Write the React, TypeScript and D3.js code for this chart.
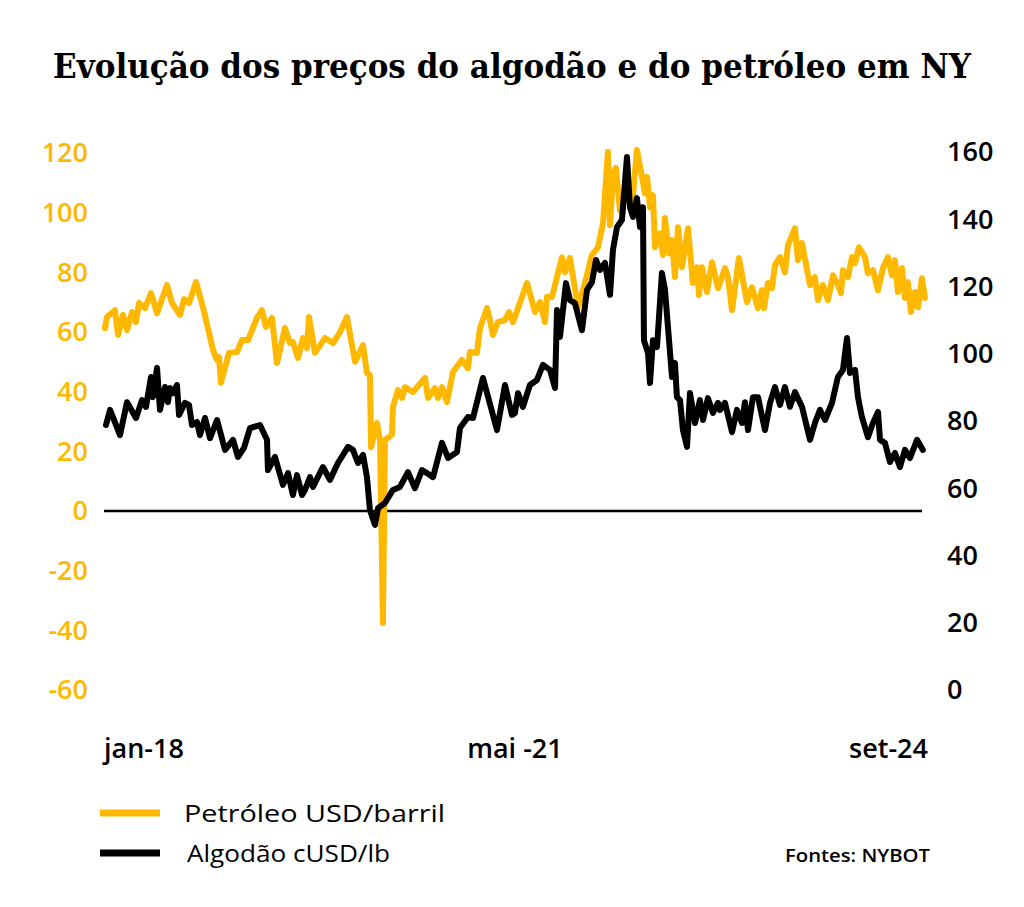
import React from "react";
import * as d3 from "d3";

// Time in decimal years (jan-18 = 2018.0)
const oilTime = [2018.000,2018.016,2018.081,2018.106,2018.146,2018.179,2018.220,2018.252,2018.276,2018.325,2018.374,2018.423,2018.504,2018.545,2018.610,2018.642,2018.683,2018.740,2018.797,2018.878,2018.911,2018.927,2018.943,2019.008,2019.073,2019.114,2019.163,2019.236,2019.276,2019.309,2019.358,2019.398,2019.463,2019.504,2019.528,2019.569,2019.610,2019.642,2019.659,2019.707,2019.789,2019.854,2019.911,2019.967,2020.033,2020.098,2020.130,2020.154,2020.163,2020.211,2020.236,2020.260,2020.276,2020.333,2020.341,2020.382,2020.415,2020.439,2020.504,2020.602,2020.626,2020.683,2020.707,2020.740,2020.780,2020.829,2020.902,2020.951,2020.967,2021.024,2021.049,2021.106,2021.130,2021.154,2021.195,2021.252,2021.285,2021.317,2021.431,2021.496,2021.537,2021.577,2021.593,2021.634,2021.715,2021.740,2021.780,2021.846,2021.902,2021.959,2022.008,2022.049,2022.089,2022.106,2022.130,2022.154,2022.187,2022.244,2022.285,2022.325,2022.366,2022.390,2022.407,2022.431,2022.455,2022.472,2022.512,2022.537,2022.553,2022.585,2022.610,2022.634,2022.659,2022.691,2022.740,2022.780,2022.813,2022.829,2022.854,2022.894,2022.935,2022.984,2023.041,2023.065,2023.098,2023.154,2023.220,2023.260,2023.309,2023.341,2023.358,2023.390,2023.423,2023.447,2023.488,2023.528,2023.553,2023.610,2023.634,2023.667,2023.732,2023.772,2023.797,2023.837,2023.878,2023.919,2023.959,2023.984,2024.000,2024.041,2024.073,2024.098,2024.130,2024.179,2024.203,2024.244,2024.285,2024.325,2024.366,2024.398,2024.423,2024.447,2024.480,2024.504,2024.528,2024.553,2024.585,2024.610,2024.642,2024.667];
const oilPrice = [61.3,65,67.3,59,65.7,60.6,66.7,63.3,69.7,68,73,66.3,75.7,69.7,65.7,71,69.7,76.7,68.3,54,50.6,51.6,43,53,53.3,57.3,57.3,64.7,67.3,61.7,64.7,49.6,61.3,56.3,56.6,51.3,58,54.6,65,53,58,56.3,60,65,50,55.6,46.2,45.6,21.4,29.5,23.8,-37.5,23.8,25.5,34.8,40.5,37.9,41.5,39.9,44.6,37.9,41.2,37.9,41.5,36.5,46.6,50.6,47.9,53.3,53,61.3,68,64,59,63.3,64,66.7,63.3,76.4,66.7,70,63.3,71.7,71.7,85,80,84.8,68.3,76.4,85.8,88.4,96.5,120.3,95.8,113,115,100.8,106.5,102.5,121,112,106.5,112,101.8,105.9,88.4,93.1,85.8,98.2,86.4,90.8,78.4,95.1,81.7,94.8,76.4,81.7,72.4,81.7,73.4,83.4,74.7,81.4,78.4,67.3,84.8,70,75,68,74,68,76.4,74.7,82.4,85.1,80,89.1,94.8,84.1,89.8,75.7,78.4,70.7,75.7,70.7,79,75.7,73,80.7,78.4,85.1,83.1,88.4,85.1,79.7,80.7,74,81.4,85.1,79,84.1,73.4,81.4,71.4,76.7,66.7,73.4,68.3,78,71.4];

const cottonTime = [2018.008,2018.041,2018.122,2018.179,2018.252,2018.301,2018.333,2018.374,2018.390,2018.423,2018.447,2018.488,2018.512,2018.528,2018.553,2018.585,2018.602,2018.650,2018.683,2018.707,2018.748,2018.772,2018.813,2018.854,2018.911,2018.976,2019.041,2019.081,2019.130,2019.179,2019.260,2019.317,2019.325,2019.382,2019.447,2019.488,2019.528,2019.561,2019.602,2019.626,2019.667,2019.691,2019.772,2019.829,2019.894,2019.976,2020.016,2020.057,2020.098,2020.130,2020.154,2020.195,2020.220,2020.276,2020.341,2020.398,2020.463,2020.520,2020.577,2020.618,2020.667,2020.740,2020.789,2020.862,2020.886,2020.951,2020.992,2021.073,2021.187,2021.252,2021.309,2021.333,2021.358,2021.398,2021.455,2021.512,2021.561,2021.618,2021.659,2021.675,2021.699,2021.748,2021.780,2021.821,2021.878,2021.919,2021.959,2021.992,2022.024,2022.065,2022.106,2022.130,2022.163,2022.203,2022.244,2022.268,2022.293,2022.325,2022.350,2022.374,2022.382,2022.415,2022.431,2022.455,2022.488,2022.528,2022.553,2022.577,2022.610,2022.634,2022.650,2022.675,2022.699,2022.732,2022.756,2022.797,2022.837,2022.862,2022.902,2022.943,2022.984,2023.000,2023.041,2023.098,2023.138,2023.179,2023.203,2023.228,2023.268,2023.309,2023.366,2023.407,2023.447,2023.488,2023.528,2023.569,2023.610,2023.667,2023.732,2023.772,2023.813,2023.854,2023.911,2023.959,2024.000,2024.033,2024.057,2024.098,2024.122,2024.154,2024.203,2024.244,2024.285,2024.301,2024.341,2024.382,2024.423,2024.463,2024.504,2024.545,2024.602,2024.650];
const cottonPrice = [78.8,83.3,75.8,85.6,80.9,86.2,84.2,93.1,87.1,95.8,83.3,90.1,85.6,89.8,88.3,90.7,81.8,85.4,84.8,78.8,79.7,75.8,80.9,74.9,80.3,71.4,74.4,69.3,72,77.9,78.8,74.4,65.4,69.3,61,64.5,58,63.9,58,59.5,63.3,60.4,66.3,62.5,67.5,72.3,71.4,67.5,69.9,63.3,53.5,49.1,54.1,55.6,59.5,60.4,64.8,60,65.4,64.5,63.3,73.5,69,70.8,77.9,81.2,80.9,92.8,77.3,90.7,81.8,82.4,88.3,84.2,90.7,92.2,96.7,95.2,89.8,113,105,121,116,115,107,119,121.3,127.9,124.9,127,117.5,130.9,137.7,139.8,158.5,143.6,140.7,146.3,137.7,143.6,104,100.2,91.3,104,102,124,119,108,93.1,97.3,87.1,86.2,77.3,72.3,88.3,79.4,86.2,80.3,86.8,82.4,85.4,83.3,85.4,76.7,83.3,79.4,85.6,77.3,87.1,87.1,77.3,85.4,90.1,84.8,90.1,84.2,88.6,84.2,74.4,79.4,83.3,80.3,85.4,93.1,95.2,104.7,94.3,95.2,87.1,81.2,75.2,79.4,82.7,74.4,73.5,67.8,70.5,66.3,71.4,69,74.4,71.4];

const leftTicks = [120, 100, 80, 60, 40, 20, 0, -20, -40, -60];
const rightTicks = [160, 140, 120, 100, 80, 60, 40, 20, 0];
const xTickTimes = [2018.0, 2021.333, 2024.667];
const xTickLabels = ["jan-18", "mai -21", "set-24"];

const YELLOW = "#FFB800";
const FONT = "'Open Sans', 'DejaVu Sans', sans-serif";

export default function App() {
  const W = 1024, H = 907;
  const x = d3.scaleLinear().domain([2018.0, 2024.667]).range([105, 925]);
  const yL = d3.scaleLinear().domain([-60, 120]).range([690, 153]);
  const yR = d3.scaleLinear().domain([0, 160]).range([690, 152]);

  const oilLine = d3.line<number>()
    .x((_, i) => x(oilTime[i]))
    .y((d) => yL(d));
  const cottonLine = d3.line<number>()
    .x((_, i) => x(cottonTime[i]))
    .y((d) => yR(d));

  return (
    <svg width={W} height={H} style={{ position: "absolute", left: 0, top: 0, background: "#fff" }}>
      <text x={512} y={78} textAnchor="middle" fontFamily="'DejaVu Serif Condensed', 'DejaVu Serif', serif" fontWeight="bold" fontSize={34}
        fontStretch="condensed" textLength={918} lengthAdjust="spacingAndGlyphs" fill="#000">
        Evolução dos preços do algodão e do petróleo em NY
      </text>

      {leftTicks.map((t) => (
        <text key={"l" + t} x={88} y={yL(t)} dy="0.35em" textAnchor="end" fontFamily={FONT} fontSize={27}
          fontWeight={600} fill={YELLOW}>{t}</text>
      ))}
      {rightTicks.map((t) => (
        <text key={"r" + t} x={947} y={yR(t)} dy="0.35em" textAnchor="start" fontFamily={FONT} fontSize={27}
          fontWeight={600} fill="#000">{t}</text>
      ))}

      <line x1={104} x2={922} y1={yL(0)} y2={yL(0)} stroke="#000" strokeWidth={2.5} />

      <path d={oilLine(oilPrice) || ""} fill="none" stroke={YELLOW} strokeWidth={6} strokeLinejoin="round" strokeLinecap="round" />
      <path d={cottonLine(cottonPrice) || ""} fill="none" stroke="#000" strokeWidth={6} strokeLinejoin="round" strokeLinecap="round" />

      {xTickTimes.map((t, i) => (
        <text key={"x" + i} x={i === 0 ? 104 : i === 2 ? 928 : x(t)} y={758}
          textAnchor={i === 0 ? "start" : i === 2 ? "end" : "middle"}
          fontFamily={FONT} fontSize={27} fontWeight={600} fill="#000">{xTickLabels[i]}</text>
      ))}

      <line x1={100} x2={160} y1={813} y2={813} stroke={YELLOW} strokeWidth={7} />
      <text x={184} y={822} fontFamily={FONT} fontSize={24} fontWeight={500} fill="#000" textLength={261} lengthAdjust="spacingAndGlyphs">Petróleo USD/barril</text>
      <line x1={100} x2={160} y1={853} y2={853} stroke="#000" strokeWidth={7} />
      <text x={187} y={862} fontFamily={FONT} fontSize={24} fontWeight={500} fill="#000" textLength={203} lengthAdjust="spacingAndGlyphs">Algodão cUSD/lb</text>
      <text x={930} y={862} textAnchor="end" fontFamily={FONT} fontSize={18} fontWeight={600} fill="#000" textLength={145} lengthAdjust="spacingAndGlyphs">Fontes: NYBOT</text>
    </svg>
  );
}
